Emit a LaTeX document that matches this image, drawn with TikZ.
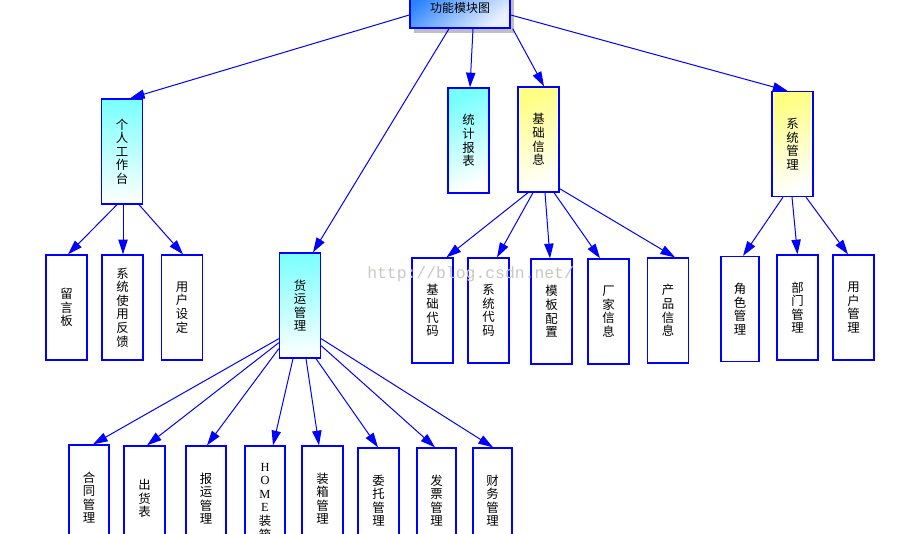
\documentclass[tikz,border=0pt]{standalone}
\usepackage{fontspec}
\newfontfamily\cjk{Noto Sans CJK SC}
\newfontfamily\wmfont{Liberation Mono}
\newfontfamily\lserif{Liberation Serif}
\usetikzlibrary{arrows.meta,calc,shadows}
\definecolor{lineblue}{RGB}{0,0,255}
\definecolor{cyanA}{RGB}{120,255,255}
\definecolor{yellowA}{RGB}{255,255,130}
\definecolor{titleblue}{RGB}{40,130,255}
\definecolor{titlelight}{RGB}{235,242,255}
\definecolor{wm}{RGB}{200,200,195}
\begin{document}
\begin{tikzpicture}[x=0.75pt,y=-0.75pt,
  box/.style={draw=lineblue, line width=1pt, fill=white, minimum width=30.75pt,
    minimum height=78.75pt, inner sep=0pt, align=center,
    font=\cjk\fontsize{9.3}{10.2}\selectfont},
  cyanbox/.style={box, top color=cyanA, bottom color=white},
  cyandiag/.style={box, top color=cyanA, bottom color=white, shading angle=25},
  yellowbox/.style={box, top color=yellowA, bottom color=white, shading angle=25},
  titlebox/.style={draw=lineblue, line width=1.1pt, minimum width=75pt, minimum height=30pt,
    inner sep=0pt, top color=titleblue, bottom color=titlelight, shading angle=40,
    font=\cjk\fontsize{9}{10}\selectfont,
    drop shadow={shadow xshift=3pt, shadow yshift=-4pt, fill=black!25, opacity=1}},
  conn/.style={draw=lineblue, line width=0.75pt, -{Triangle[length=11pt,width=7pt]}},
  watermark/.style={text=wm, font=\wmfont\fontsize{12.3}{13}\selectfont, inner sep=0pt}
]
\useasboundingbox (0,0) rectangle (923,534);
\clip (0,0) rectangle (923,534);

% top
\node[titlebox] (T) at (460,8) {功能模块图};

% level 1
\node[cyanbox] (P) at (122,151.5) {个\\人\\工\\作\\台};
\node[cyanbox] (H) at (300,305.5) {货\\运\\管\\理};
\node[cyandiag] (S) at (468.5,140.5) {统\\计\\报\\表};
\node[yellowbox] (J) at (538.5,139.5) {基\\础\\信\\息};
\node[yellowbox] (G) at (792.5,144) {系\\统\\管\\理};

% children of P
\node[box] (P1) at (66.5,307.5) {留\\言\\板};
\node[box] (P2) at (122.5,307.5) {系\\统\\使\\用\\反\\馈};
\node[box] (P3) at (182,307.5) {用\\户\\设\\定};

% children of J
\node[box] (J1) at (432.5,310.5) {基\\础\\代\\码};
\node[box] (J2) at (488.5,310.5) {系\\统\\代\\码};
\node[box] (J3) at (551.5,311.5) {模\\板\\配\\置};
\node[box] (J4) at (608.5,311.5) {厂\\家\\信\\息};
\node[box] (J5) at (668,310.5) {产\\品\\信\\息};

% children of G
\node[box, minimum width=28.5pt] (G1) at (740,309) {角\\色\\管\\理};
\node[box] (G2) at (797.5,307.5) {部\\门\\管\\理};
\node[box] (G3) at (853.5,307.5) {用\\户\\管\\理};

% children of H
\node[box, minimum width=30pt] (H1) at (89,497.5) {合\\同\\管\\理};
\node[box] (H2) at (144.5,498.5) {出\\货\\表};
\node[box, minimum width=30pt] (H3) at (206,498.5) {报\\运\\管\\理};
\node[box, minimum width=30pt, minimum height=103.5pt] (H4) at (265,515)
  {{\lserif H}\\{\lserif O}\\{\lserif M}\\{\lserif E}\\装\\箱\\管\\理};
\node[box] (H5) at (322.5,498.5) {装\\箱\\管\\理};
\node[box] (H6) at (378.5,500.5) {委\\托\\管\\理};
\node[box, minimum width=29.25pt] (H7) at (436.5,500.5) {发\\票\\管\\理};
\node[box, minimum width=29.25pt] (H8) at (492.5,500.5) {财\\务\\管\\理};

% connectors from top
\draw[conn] ($(T.west)+(0,7)$) -- ($(P.north)+(8,0)$);
\draw[conn] ($(T.south)+(-11,0)$) -- ($(H.north)+(13,0)$);
\draw[conn] ($(T.south)+(13,0)$) -- ($(S.north)+(1.5,0)$);
\draw[conn] ($(T.south east)+(2,0)$) -- ($(J.north)+(5.5,0)$);
\draw[conn] ($(T.east)+(0,7)$) -- ($(G.north)+(-5,0)$);

% from P
\draw[conn] ($(P.south)+(-5,0)$) -- ($(P1.north)+(1.5,0)$);
\draw[conn] ($(P.south)+(1,0)$) -- ($(P2.north)+(0.5,0)$);
\draw[conn] ($(P.south)+(17,0)$) -- ($(P3.north)+(1,0)$);

% from J
\draw[conn] ($(J.south)+(-10.5,0)$) -- ($(J1.north)+(14,0)$);
\draw[conn] ($(J.south)+(-5.5,0)$) -- ($(J2.north)+(8.5,0)$);
\draw[conn] ($(J.south)+(6.5,0)$) -- ($(J3.north)+(-1.5,0)$);
\draw[conn] ($(J.south)+(15.5,0)$) -- ($(J4.north)+(-8.5,0)$);
\draw[conn] ($(J.south east)+(0,-4)$) -- ($(J5.north)+(7,0)$);

% from G
\draw[conn] ($(G.south)+(-9.5,0)$) -- ($(G1.north)+(3,0)$);
\draw[conn] ($(G.south)+(-0.5,0)$) -- ($(G2.north)+(0,0)$);
\draw[conn] ($(G.south)+(13.5,0)$) -- ($(G3.north)+(-5.5,0)$);

% from H
\draw[conn] ($(H.south west)+(0,-20)$) -- ($(H1.north)+(4,0)$);
\draw[conn] ($(H.south west)+(0,-16)$) -- ($(H2.north)+(2.5,0)$);
\draw[conn] ($(H.south west)+(0,-10)$) -- ($(H3.north)+(1,0)$);
\draw[conn] ($(H.south)+(-7,0)$) -- ($(H4.north)+(8,0)$);
\draw[conn] ($(H.south)+(6,0)$) -- ($(H5.north)+(-3.5,0)$);
\draw[conn] ($(H.south)+(16,0)$) -- ($(H6.north)+(-0.5,0)$);
\draw[conn] ($(H.south east)+(0,-13)$) -- ($(H7.north)+(-1.5,0)$);
\draw[conn] ($(H.south east)+(0,-20)$) -- ($(H8.north)+(0.5,0)$);

% watermark
\node[watermark, anchor=base west] (wmk) at (367,278) {http://blog.csdn.net/};
\end{tikzpicture}
\end{document}
